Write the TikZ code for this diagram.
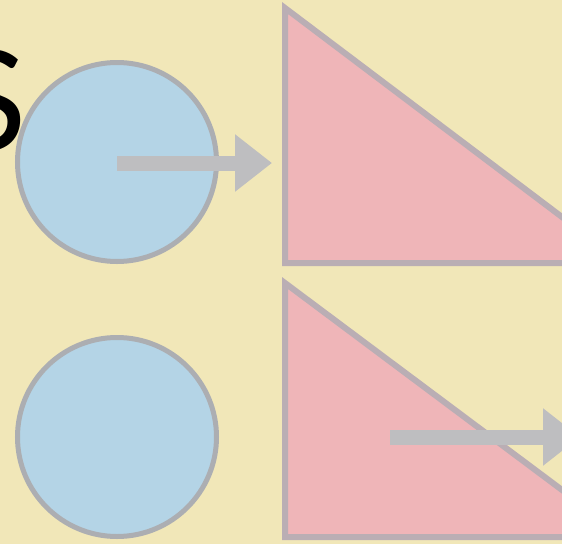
\documentclass[tikz,border=0pt]{standalone}
\usepackage{fontspec}
\setsansfont{Lato}
\usetikzlibrary{arrows.meta}
\definecolor{bgyel}{RGB}{241,231,184}
\definecolor{circfill}{RGB}{180,212,230}
\definecolor{circline}{RGB}{172,174,178}
\definecolor{trifill}{RGB}{239,181,184}
\definecolor{triline}{RGB}{186,174,180}
\definecolor{arrowgray}{RGB}{190,190,192}
\tikzset{
  roundshape/.style={circle, draw=circline, fill=circfill, line width=5pt, minimum size=199pt, inner sep=0pt},
  trishape/.style={draw=triline, fill=trifill, line width=6pt, line join=miter},
  bigarrow/.style={draw=arrowgray, line width=15pt, -{Triangle[length=37pt,width=55pt]}},
  bigletter/.style={inner sep=0pt, font=\sffamily\fontsize{139}{139}\selectfont, text=black}
}
\begin{document}
\begin{tikzpicture}[x=1pt,y=-1pt]
\useasboundingbox (0,0) rectangle (562,544);
\clip (0,0) rectangle (562,544);
\fill[bgyel] (0,0) rectangle (562,544);
% top row
\node[roundshape] (c1) at (117,162) {};
\draw[trishape] (285,8) -- (285,263) -- (623,263) -- cycle;
\coordinate (t1) at (285,263);
\coordinate (a1s) at (117,163);
\coordinate (a1e) at (272,163);
\draw[bigarrow] (a1s) -- (a1e);
% bottom row
\node[roundshape] (c2) at (117,437) {};
\draw[trishape] (285,283) -- (285,537) -- (625,537) -- cycle;
\coordinate (a2s) at (390,437);
\coordinate (a2e) at (580,437);
\draw[bigarrow] (a2s) -- (a2e);
% letter
\node[bigletter, anchor=base east] (s) at (27,150) {S};
\end{tikzpicture}
\end{document}
